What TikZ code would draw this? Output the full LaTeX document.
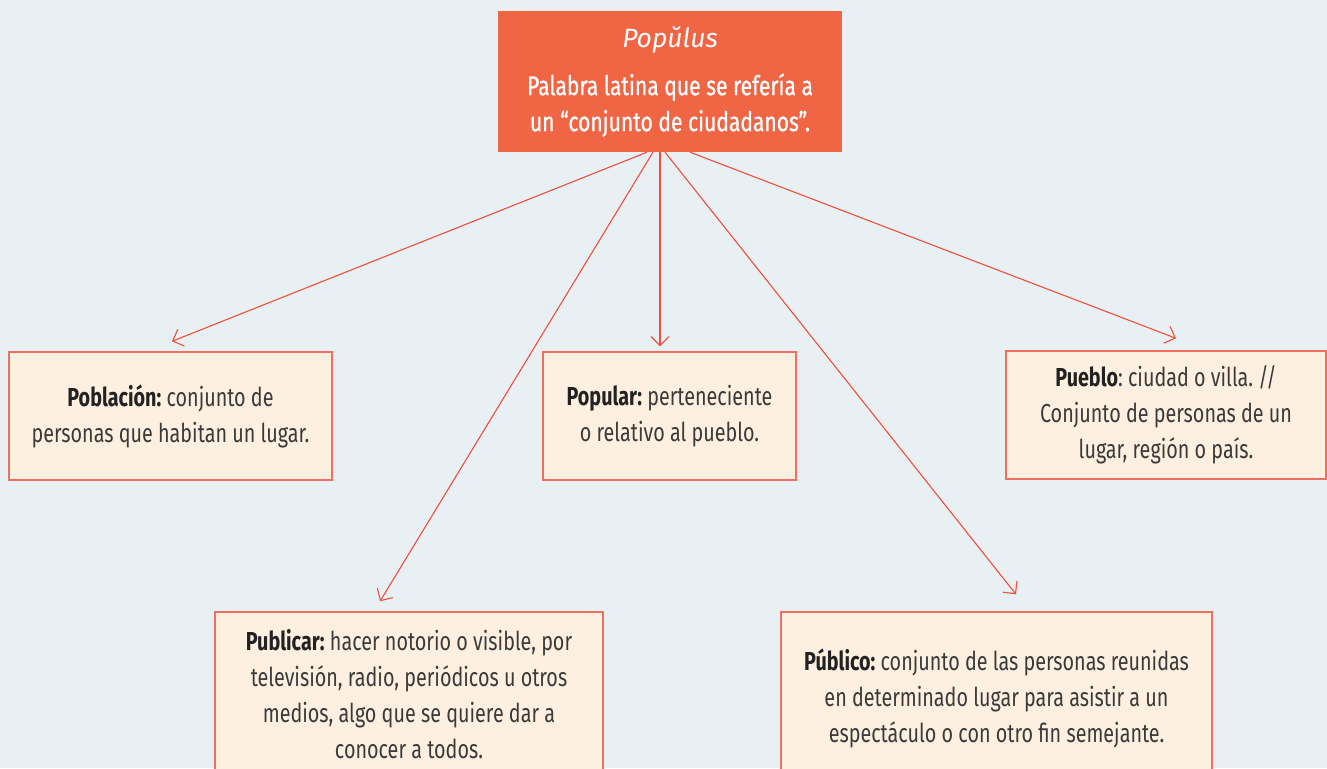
\documentclass[tikz,border=0pt]{standalone}
\usepackage{fontspec}
\setmainfont{Fira Sans}[FakeStretch=0.76]
\newfontfamily\titlefont{Fira Sans}[ItalicFont={Fira Sans Italic}]
\newfontfamily\headfont{Fira Sans}[FakeStretch=0.78,FakeBold=0.8]
\usetikzlibrary{arrows.meta,calc}
\frenchspacing
\definecolor{bgc}{HTML}{E8F0F4}
\definecolor{topc}{HTML}{F06544}
\definecolor{boxf}{HTML}{FEF0E0}
\definecolor{boxd}{HTML}{F07060}
\definecolor{arrc}{HTML}{EE4E3A}
\definecolor{txtc}{HTML}{3A3A3A}
\definecolor{boldc}{HTML}{222222}
\newcommand{\kw}[1]{{\bfseries\color{boldc}#1}}
\begin{document}
\begin{tikzpicture}[x=1pt,y=-1pt,
  defbox/.style={draw=boxd,line width=1.4pt,fill=boxf,text=txtc,align=center,
    inner sep=0pt,font=\frenchspacing\fontsize{26}{36}\selectfont},
  topbox/.style={fill=topc,text=white,align=center,inner sep=0pt,
    font=\headfont\fontsize{27}{36}\selectfont},
  arr/.style={draw=arrc,line width=1.1pt,-{Straight Barb[length=9pt,width=18pt,line width=1.1pt]}}]
\fill[bgc] (0,0) rectangle (1327,768);
\clip (0,0) rectangle (1327,768);
\node[topbox,minimum width=344pt,minimum height=141pt] (top) at (670,81.5)
  {{\titlefont\itshape\fontsize{26.5}{26.5}\selectfont Popŭlus}\\[12pt]
   Palabra latina que se refería a\\ un “conjunto de ciudadanos”.};
\node[defbox,minimum width=323pt,minimum height=128pt] (pob) at (170.5,416)
  {\kw{Población:} conjunto de\\ personas que habitan un lugar.};
\node[defbox,minimum width=253pt,minimum height=128pt] (pop) at (669.5,416)
  {\kw{Popular:} perteneciente\\ o relativo al pueblo.};
\node[defbox,minimum width=320pt,minimum height=128pt] (pue) at (1166,415)
  {\kw{Pueblo}: ciudad o villa. //\\ Conjunto de personas de un\\ lugar, región o país.};
\node[defbox,minimum width=388pt,minimum height=165pt] (pub) at (409,694.5)
  {\kw{Publicar:} hacer notorio o visible, por\\ televisión, radio, periódicos u otros\\ medios, algo que se quiere dar a\\ conocer a todos.};
\node[defbox,minimum width=431pt,minimum height=172pt] (pco) at (996.5,698)
  {\kw{Público:} conjunto de las personas reunidas\\ en determinado lugar para asistir a un\\ espectáculo o con otro fin semejante.};
\draw[arr] ($(top.south)+(-23,0)$) -- ($(pob.north)+(1.5,-10)$);
\draw[arr] ($(top.south)+(-17,0)$) -- ($(pub.north)+(-29,-10)$);
\draw[arr] ($(top.south)+(-10,0)$) -- ($(pop.north)+(-9.5,-5)$);
\draw[arr] ($(top.south)+(-5,0)$) -- ($(pco.north)+(19.5,-17)$);
\draw[arr] ($(top.south)+(20,0)$) -- ($(pue.north)+(10,-12)$);
\end{tikzpicture}
\end{document}
